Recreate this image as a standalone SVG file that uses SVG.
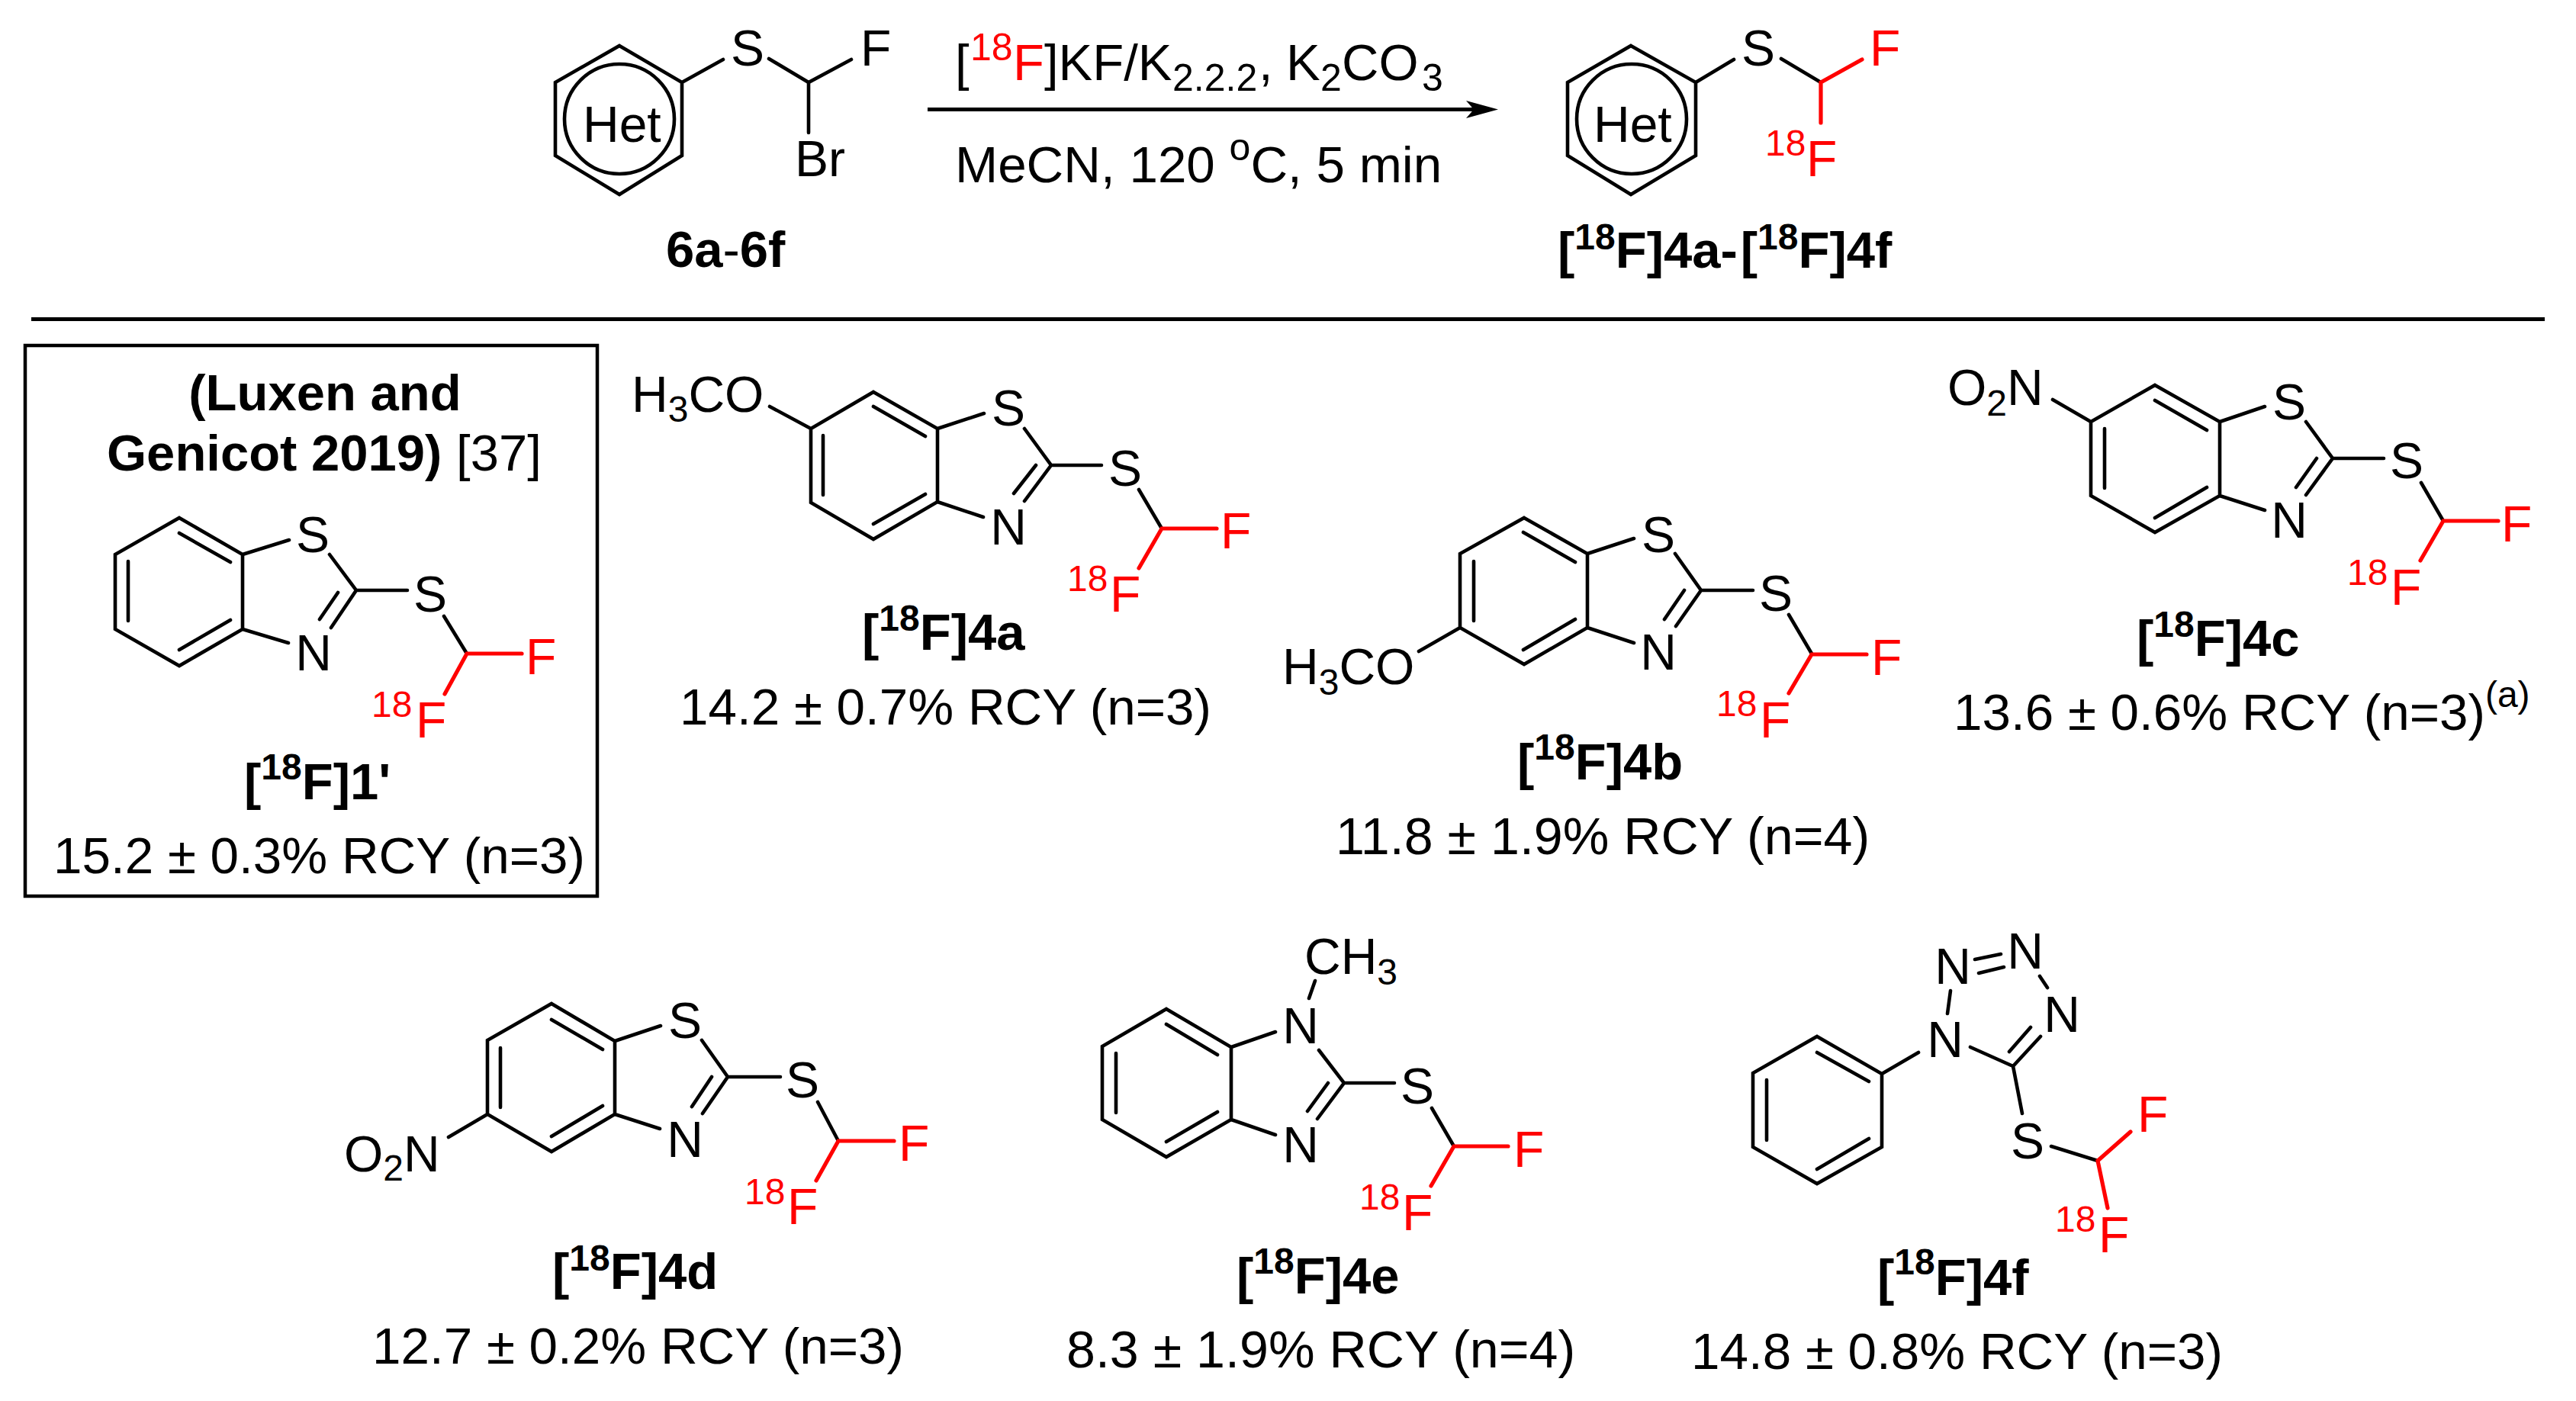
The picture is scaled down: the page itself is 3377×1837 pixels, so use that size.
<svg xmlns="http://www.w3.org/2000/svg" width="3377" height="1837" viewBox="0 0 3377 1837">
<style>
text{font-family:"Liberation Sans",Arial,sans-serif;fill:#000;font-size:66px}
.b{font-weight:bold;font-size:67px}
.y{font-size:67.4px}
.w{font-size:68.2px}
.c{text-anchor:middle}
.r{fill:#f00}
.u{font-size:48px}
.v{font-size:50px}
.n{font-weight:normal}
.k{fill:none;stroke:#000;stroke-width:4.6;stroke-linecap:round;stroke-linejoin:miter}
.f{fill:none;stroke:#f00;stroke-width:5.2;stroke-linecap:round;stroke-linejoin:miter}
</style>
<rect width="3377" height="1837" fill="#fff"/>
<g id="scheme-connectors">
<line x1="41" y1="418.5" x2="3336" y2="418.5" stroke="#000" stroke-width="5"/>
<line x1="1216" y1="143.5" x2="1938" y2="143.5" stroke="#000" stroke-width="5"/>
<polygon points="1964,143.5 1922,132 1932,143.5 1922,155"/>
</g>
<g id="reactant-6">
<path class="k" d="M812 60L894 108V204L812 255L728 204V108ZM894 108L948 78M1008 77L1060 108L1116 78M1060 108V174"/>
<circle class="k" cx="812" cy="156" r="72"/>
<text x="764" y="186">Het</text>
<text class="c" x="980" y="86">S</text>
<text x="1128" y="86">F</text>
<text x="1042" y="231">Br</text>
<text class="b" x="873" y="350">6a<tspan class="n">-</tspan>6f</text>
</g>
<g id="conditions">
<text x="1252" y="105" font-size="67" style="font-size:67px">[<tspan class="v r" y="79" x="1272">18</tspan><tspan class="r" y="105" x="1328">F</tspan><tspan x="1369">]KF/K</tspan><tspan class="v" y="119" x="1537">2.2.2</tspan><tspan y="105" x="1650">,</tspan><tspan x="1686">K</tspan><tspan class="v" y="119" x="1731">2</tspan><tspan y="105" x="1759">CO</tspan><tspan class="v" y="119" x="1864">3</tspan></text>
<text x="1252" y="239" style="font-size:67.4px">MeCN, 120 <tspan class="v" y="210">o</tspan><tspan y="239">C, 5 min</tspan></text>
</g>
<g id="product-4">
<path class="k" d="M2138 60L2223 108V204L2138 255L2055 204V108ZM2223 108L2273 78M2335 77L2387 108"/>
<circle class="k" cx="2139" cy="156" r="72"/>
<path class="f" d="M2441 78L2387 108V161"/>
<text x="2089" y="186">Het</text>
<text class="c" x="2305" y="86">S</text>
<text class="r" x="2451" y="86">F</text>
<text class="r" x="2368" y="231">F</text>
<text class="u r" x="2314" y="204">18</text>
<text class="b" x="2042" y="351">[<tspan class="u" y="327">18</tspan><tspan y="351">F]4a-</tspan><tspan dx="4" y="351">[</tspan><tspan class="u" y="327">18</tspan><tspan y="351">F]4f</tspan></text>
</g>
<g id="compound-1">
<rect x="33" y="453" width="750" height="722" fill="none" stroke="#000" stroke-width="4.5"/>
<text class="b c" x="426" y="538">(Luxen and</text>
<text class="b" x="140" y="617">Genicot 2019)<tspan class="n"> [37]</tspan></text>
<path class="k" d="M235 679L318 727V825L235 873L151 825V727ZM235 699L302 737M168 736V814M235 852L302 813M318 727L379 708M432 727L467 774L434 823M443 777L419 812M318 825L378 843M467 774H534M582 808L612 857"/>
<path class="f" d="M684 857H612L583 910"/>
<text class="c" x="410" y="724">S</text>
<text class="c" x="411" y="879">N</text>
<text class="c" x="564" y="802">S</text>
<text class="r" x="689" y="884">F</text>
<text class="u r" x="487" y="940">18</text>
<text class="r" x="545" y="967">F</text>
<text class="b" x="320" y="1048">[<tspan class="u" y="1022">18</tspan><tspan y="1048">F]1'</tspan></text>
<text class="y" x="70" y="1145">15.2 ± 0.3% RCY (n=3)</text>
</g>
<g id="compound-4a">
<path class="k" d="M1145 514L1229 562V658L1145 707L1063 659V562ZM1145 533L1213 572M1079 571V649M1145 687L1213 648M1063 562L1009 533M1229 562L1290 542M1343 562L1378 610L1343 657M1358 610L1329 647M1229 658L1289 678M1378 610H1444M1493 642L1523 693"/>
<path class="f" d="M1595 693H1523L1493 745"/>
<text x="828" y="540">H<tspan class="u" y="553">3</tspan><tspan y="540">CO</tspan></text>
<text class="c" x="1322" y="558">S</text>
<text class="c" x="1322" y="714">N</text>
<text class="c" x="1475" y="637">S</text>
<text class="r" x="1600" y="719">F</text>
<text class="u r" x="1399" y="775">18</text>
<text class="r" x="1455" y="802">F</text>
<text class="b" x="1130" y="852">[<tspan class="u" y="827">18</tspan><tspan y="852">F]4a</tspan></text>
<text class="y" x="891" y="950">14.2 ± 0.7% RCY (n=3)</text>
</g>
<g id="compound-4b">
<path class="k" d="M1998 679L2081 726V823L1998 871L1914 823V726ZM1997 698L2065 737M1932 736V814M1997 852L2065 812M1914 823L1860 854M2081 726L2142 706M2196 726L2230 774L2197 821M2208 774L2182 812M2081 823L2142 843M2230 774H2298M2345 806L2375 857"/>
<path class="f" d="M2447 858H2375L2345 909"/>
<text x="1681" y="897">H<tspan class="u" y="911">3</tspan><tspan y="897">CO</tspan></text>
<text class="c" x="2174" y="724">S</text>
<text class="c" x="2174" y="878">N</text>
<text class="c" x="2328" y="801">S</text>
<text class="r" x="2453" y="885">F</text>
<text class="u r" x="2250" y="939">18</text>
<text class="r" x="2307" y="967">F</text>
<text class="b" x="1989" y="1022">[<tspan class="u" y="996">18</tspan><tspan y="1022">F]4b</tspan></text>
<text class="w" x="1751" y="1120">11.8 ± 1.9% RCY (n=4)</text>
</g>
<g id="compound-4c">
<path class="k" d="M2825 505L2910 553V650L2825 698L2741 650V553ZM2825 525L2893 564M2759 562V640M2825 679L2893 639M2741 553L2691 524M2910 553L2969 533M3023 553L3058 601L3023 649M3037 601L3010 639M2910 650L2969 669M3058 601H3125M3174 633L3203 683"/>
<path class="f" d="M3275 683H3203L3173 735"/>
<text x="2553" y="531">O<tspan class="u" y="545">2</tspan><tspan y="531">N</tspan></text>
<text class="c" x="3001" y="550">S</text>
<text class="c" x="3001" y="705">N</text>
<text class="c" x="3155" y="627">S</text>
<text class="r" x="3279" y="710">F</text>
<text class="u r" x="3077" y="767">18</text>
<text class="r" x="3134" y="793">F</text>
<text class="b" x="2801" y="860">[<tspan class="u" y="835">18</tspan><tspan y="860">F]4c</tspan></text>
<text class="y" x="2561" y="957">13.6 ± 0.6% RCY (n=3)<tspan class="u" y="927">(a)</tspan></text>
</g>
<g id="compound-4d">
<path class="k" d="M723 1316L806 1365V1461L723 1510L639 1461V1364ZM723 1337L790 1376M656 1374V1452M723 1490L790 1450M639 1461L588 1491M806 1365L866 1345M920 1364L954 1412L921 1460M933 1412L907 1451M806 1461L865 1480M954 1412H1023M1072 1445L1099 1496"/>
<path class="f" d="M1172 1496H1099L1070 1548"/>
<text x="451" y="1536">O<tspan class="u" y="1548">2</tspan><tspan y="1536">N</tspan></text>
<text class="c" x="898" y="1361">S</text>
<text class="c" x="898" y="1517">N</text>
<text class="c" x="1052" y="1439">S</text>
<text class="r" x="1178" y="1522">F</text>
<text class="u r" x="976" y="1579">18</text>
<text class="r" x="1032" y="1605">F</text>
<text class="b" x="724" y="1690">[<tspan class="u" y="1666">18</tspan><tspan y="1690">F]4d</tspan></text>
<text class="y" x="488" y="1788">12.7 ± 0.2% RCY (n=3)</text>
</g>
<g id="compound-4e">
<path class="k" d="M1529 1323L1614 1373V1468L1529 1517L1445 1468V1372ZM1529 1343L1596 1383M1463 1381V1459M1529 1497L1596 1458M1716 1309L1724 1286M1614 1373L1672 1353M1729 1377L1762 1420L1727 1467M1741 1420L1714 1457M1614 1468L1672 1488M1762 1420H1828M1877 1453L1906 1503"/>
<path class="f" d="M1977 1503H1906L1876 1555"/>
<text x="1710" y="1277">CH<tspan class="u" y="1291">3</tspan></text>
<text class="c" x="1705" y="1368">N</text>
<text class="c" x="1705" y="1524">N</text>
<text class="c" x="1858" y="1447">S</text>
<text class="r" x="1984" y="1530">F</text>
<text class="u r" x="1782" y="1586">18</text>
<text class="r" x="1838" y="1613">F</text>
<text class="b" x="1621" y="1696">[<tspan class="u" y="1670">18</tspan><tspan y="1696">F]4e</tspan></text>
<text class="w" x="1398" y="1793">8.3 ± 1.9% RCY (n=4)</text>
</g>
<g id="compound-4f">
<path class="k" d="M2382 1359L2467 1408V1504L2382 1552L2298 1504V1407ZM2382 1380L2450 1418M2316 1416V1495M2382 1533L2450 1493M2467 1408L2515 1380M2553 1329L2557 1299M2589 1258L2623 1251M2594 1276L2627 1268M2674 1280L2684 1295M2675 1359L2639 1398L2583 1373M2662 1347L2634 1379M2639 1398L2651 1460M2689 1503L2750 1522"/>
<path class="f" d="M2793 1484L2750 1522L2763 1584"/>
<text class="c" x="2550" y="1386">N</text>
<text class="c" x="2560" y="1290">N</text>
<text class="c" x="2655" y="1270">N</text>
<text class="c" x="2703" y="1353">N</text>
<text class="c" x="2658" y="1519">S</text>
<text class="r" x="2802" y="1484">F</text>
<text class="u r" x="2694" y="1615">18</text>
<text class="r" x="2751" y="1642">F</text>
<text class="b" x="2461" y="1698">[<tspan class="u" y="1671">18</tspan><tspan y="1698">F]4f</tspan></text>
<text class="y" x="2217" y="1795">14.8 ± 0.8% RCY (n=3)</text>
</g>
</svg>
